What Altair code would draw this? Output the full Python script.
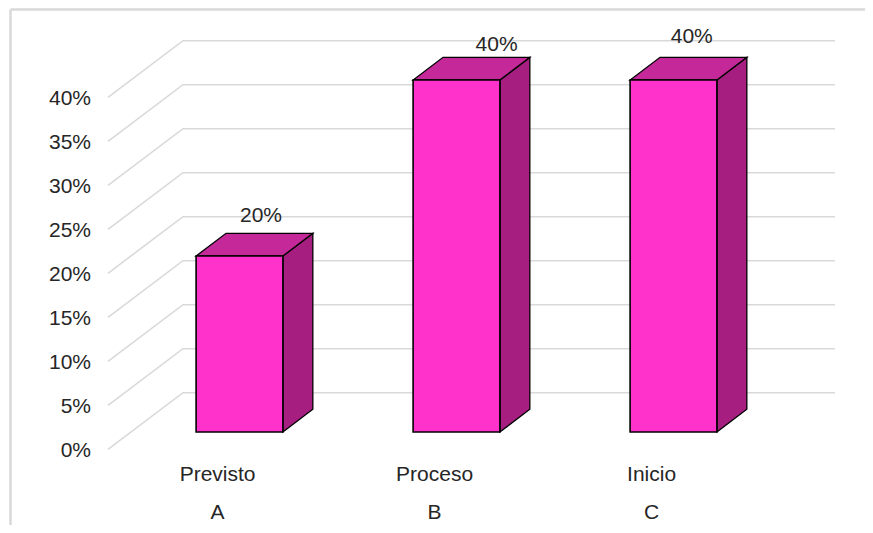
import altair as alt
import pandas as pd

# Data
CATEGORIES = ["Previsto", "Proceso", "Inicio"]
GROUPS = ["A", "B", "C"]
VALUES = [20, 40, 40]
TICKS = [0, 5, 10, 15, 20, 25, 30, 35, 40]
# hand-placed data labels (offset from each bar's centre / absolute height in % units)
LABEL_U = [0.099, 0.185, 0.084]
LABEL_V = [24.77, 44.1, 45.0]

# Layout in scale units
W, H = 857, 517
XS = alt.Scale(domain=[-1.0668, -1.0668 + W / 217], range=[0, W], nice=False, zero=False)
YS = alt.Scale(domain=[48.18 - H / 8.8, 48.18], range=[H, 0], nice=False, zero=False)
BAR_HALF = 0.2
DU, DV = 0.138, 2.58
WALL_L_FRONT, WALL_L_BACK, WALL_R = -0.606, -0.2604, 2.744
FLOOR_FRONT, FLOOR_BACK = -1.966, 4.466
GRID = "#d9d9d9"
TEXT = "#262626"
FONT = "Liberation Sans"

X = alt.X("u:Q", scale=XS, axis=None)
Y = alt.Y("v:Q", scale=YS, axis=None)

grid_rows, front_rows, side_rows, top_rows = [], [], [], []
for t in TICKS:
    grid_rows += [
        {"t": t, "k": 0, "u": WALL_L_FRONT, "v": t + FLOOR_FRONT},
        {"t": t, "k": 1, "u": WALL_L_BACK, "v": t + FLOOR_BACK},
        {"t": t, "k": 2, "u": WALL_R, "v": t + FLOOR_BACK},
    ]
for i, val in enumerate(VALUES):
    l, r = i - BAR_HALF, i + BAR_HALF
    front_rows.append({"u": l, "u2": r, "v": 0, "v2": val})
    side_rows += [
        {"b": i, "u": r, "v": 0, "v2": val},
        {"b": i, "u": r + DU, "v": DV, "v2": val + DV},
    ]
    top_rows += [
        {"b": i, "u": l, "v": val, "v2": val},
        {"b": i, "u": l + DU, "v": val, "v2": val + DV},
        {"b": i, "u": r, "v": val, "v2": val + DV},
        {"b": i, "u": r + DU, "v": val + DV, "v2": val + DV},
    ]

frame = pd.DataFrame({"a": [0]})
border_left = alt.Chart(frame).mark_rule(color=GRID, strokeWidth=2.5).encode(
    x=alt.value(2.5), y=alt.value(1.5), y2=alt.value(H))
border_top = alt.Chart(frame).mark_rule(color=GRID, strokeWidth=2.5).encode(
    x=alt.value(2.5), x2=alt.value(W), y=alt.value(1.5))

grid = alt.Chart(pd.DataFrame(grid_rows)).mark_line(color=GRID, strokeWidth=1.6).encode(
    x=X, y=Y, detail="t:N", order="k:Q")

side = alt.Chart(pd.DataFrame(side_rows)).mark_area(
    color="#a61f80", stroke="#000000", strokeWidth=1.3, opacity=1).encode(
    x=X, y=Y, y2="v2:Q", detail="b:N")
top = alt.Chart(pd.DataFrame(top_rows)).mark_area(
    color="#c42899", stroke="#000000", strokeWidth=1.3, opacity=1).encode(
    x=X, y=Y, y2="v2:Q", detail="b:N")
front = alt.Chart(pd.DataFrame(front_rows)).mark_rect(
    color="#ff33cc", stroke="#000000", strokeWidth=1.6).encode(
    x=X, x2="u2:Q", y=Y, y2="v2:Q")

txt = dict(font=FONT, fontSize=21, color=TEXT, baseline="middle", dy=1.5)

tick_labels = alt.Chart(pd.DataFrame({
    "u": [WALL_L_FRONT] * len(TICKS),
    "v": [t + FLOOR_FRONT for t in TICKS],
    "s": [f"{t}%" for t in TICKS],
})).mark_text(align="right", dx=-17, **txt).encode(x=X, y=Y, text="s:N")

cat_u = [i - 0.101 for i in range(3)]
cat_labels = alt.Chart(pd.DataFrame({"u": cat_u, "v": [-4.77] * 3, "s": CATEGORIES})).mark_text(
    align="center", **txt).encode(x=X, y=Y, text="s:N")
group_labels = alt.Chart(pd.DataFrame({"u": cat_u, "v": [-8.98] * 3, "s": GROUPS})).mark_text(
    align="center", **txt).encode(x=X, y=Y, text="s:N")
value_labels = alt.Chart(pd.DataFrame({
    "u": [i + d for i, d in enumerate(LABEL_U)],
    "v": LABEL_V,
    "s": [f"{v}%" for v in VALUES],
})).mark_text(align="center", **txt).encode(x=X, y=Y, text="s:N")

chart = alt.layer(
    border_left, border_top, grid, side, top, front,
    tick_labels, cat_labels, group_labels, value_labels,
).properties(
    width=W, height=H, padding=0,
    autosize=alt.AutoSizeParams(type="none"),
).configure_view(stroke=None)

chart.save("out.html", embed_options={"renderer": "svg", "actions": False})
